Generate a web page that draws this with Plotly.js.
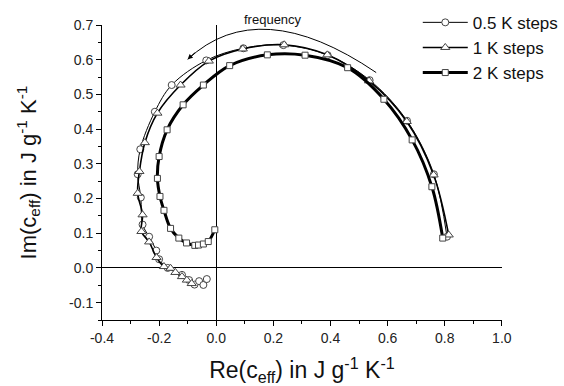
<!DOCTYPE html>
<html>
<head>
<meta charset="utf-8">
<script src="https://cdn.plot.ly/plotly-3.0.1.min.js"></script>
<style>html,body{margin:0;padding:0;background:#fff;}#chart{width:564px;height:386px;}</style>
</head>
<body>
<div id="chart"></div>
<script>
// 0.5 K steps (circles)
var x05 = [0.808, 0.762, 0.668, 0.537, 0.390, 0.235, 0.095, -0.035, -0.156, -0.215, -0.266, -0.275, -0.264, -0.258, -0.235, -0.210, -0.200, -0.170, -0.120, -0.095, -0.076, -0.060, -0.045, -0.033];
var y05 = [0.090, 0.270, 0.424, 0.541, 0.613, 0.642, 0.633, 0.598, 0.527, 0.450, 0.342, 0.270, 0.203, 0.125, 0.090, 0.050, 0.025, 0.000, -0.020, -0.035, -0.048, -0.038, -0.049, -0.032];
// 1 K steps (triangles)
var x1 = [0.814, 0.761, 0.667, 0.535, 0.389, 0.238, 0.093, -0.026, -0.125, -0.206, -0.250, -0.269, -0.275, -0.258, -0.262, -0.235, -0.209, -0.183, -0.160, -0.143, -0.120, -0.103, -0.086];
var y1 = [0.095, 0.268, 0.422, 0.539, 0.614, 0.643, 0.631, 0.596, 0.527, 0.446, 0.361, 0.278, 0.215, 0.153, 0.105, 0.075, 0.030, 0.004, -0.001, -0.013, -0.025, -0.035, -0.045];
// 2 K steps (squares)
var x2 = [0.793, 0.755, 0.686, 0.587, 0.460, 0.311, 0.179, 0.047, -0.045, -0.116, -0.172, -0.200, -0.206, -0.197, -0.183, -0.160, -0.131, -0.104, -0.075, -0.062, -0.045, -0.028, -0.005];
var y2 = [0.086, 0.234, 0.369, 0.486, 0.577, 0.613, 0.614, 0.583, 0.527, 0.470, 0.398, 0.321, 0.258, 0.206, 0.166, 0.114, 0.086, 0.072, 0.065, 0.066, 0.069, 0.076, 0.110];

var seriesNames = ['0.5 K steps', '1 K steps', '2 K steps'];
var xTickVals = [-0.4, -0.2, 0.0, 0.2, 0.4, 0.6, 0.8, 1.0];
var xTickText = ['-0.4', '-0.2', '0.0', '0.2', '0.4', '0.6', '0.8', '1.0'];
var xMinorVals = [-0.3, -0.1, 0.1, 0.3, 0.5, 0.7, 0.9];
var yTickVals = [-0.1, 0.0, 0.1, 0.2, 0.3, 0.4, 0.5, 0.6, 0.7];
var yTickText = ['-0.1', '0.0', '0.1', '0.2', '0.3', '0.4', '0.5', '0.6', '0.7'];
var yMinorVals = [-0.15, -0.05, 0.05, 0.15, 0.25, 0.35, 0.45, 0.55, 0.65];

var font = 'Liberation Sans, Arial, sans-serif';
var xRange = [-0.4, 1.0], yRange = [-0.15, 0.7];
var xDomain = [0, 406 / 462], yDomain = [0, 295 / 320];
function mk(sym, size) {
  return {symbol: sym, size: size, color: '#fff', line: {color: '#444', width: 1}};
}
var traces = [
  {x: x05, y: y05, name: seriesNames[0], mode: 'lines+markers', line: {color: '#000', width: 1, shape: 'spline'}, marker: mk('circle', 7), cliponaxis: false},
  {x: x1, y: y1, name: seriesNames[1], mode: 'lines+markers', line: {color: '#000', width: 1.6, shape: 'spline'}, marker: mk('triangle-up', 8), cliponaxis: false},
  {x: x2, y: y2, name: seriesNames[2], mode: 'lines+markers', line: {color: '#000', width: 3, shape: 'spline'}, marker: mk('square', 6), cliponaxis: false},
  {x: [null], y: [null], xaxis: 'x2', yaxis: 'y', showlegend: false, hoverinfo: 'skip', mode: 'markers'},
  {x: [null], y: [null], xaxis: 'x', yaxis: 'y2', showlegend: false, hoverinfo: 'skip', mode: 'markers'}
];

var layout = {
  width: 564, height: 386,
  margin: {l: 102, r: 0, t: 0, b: 66},
  paper_bgcolor: '#fff', plot_bgcolor: '#fff',
  font: {family: font, color: '#111'},
  showlegend: true,
  legend: {x: 0.694, y: 0.985, xanchor: 'left', yanchor: 'top', font: {size: 17, family: font}, bgcolor: 'rgba(0,0,0,0)', itemwidth: 45, tracegroupgap: 0},
  xaxis: {
    domain: xDomain, range: xRange, showgrid: false, zeroline: true, zerolinecolor: '#000', zerolinewidth: 1,
    showline: true, linecolor: '#000', linewidth: 1, ticks: 'outside', ticklen: 5, tickcolor: '#000',
    tickmode: 'array', tickvals: xTickVals, ticktext: xTickText, tickfont: {size: 14, family: font, color: '#222'},
    title: {text: 'Re(c<sub>eff</sub>) in J g<sup>-1</sup> K<sup>-1</sup>', font: {size: 23, family: font, color: '#111'}, standoff: 17},
    automargin: false
  },
  yaxis: {
    domain: yDomain, range: yRange, showgrid: false, zeroline: true, zerolinecolor: '#000', zerolinewidth: 1,
    showline: true, linecolor: '#000', linewidth: 1, ticks: 'outside', ticklen: 5, tickcolor: '#000',
    tickmode: 'array', tickvals: yTickVals, ticktext: yTickText, tickfont: {size: 14, family: font, color: '#222'},
    title: {text: 'Im(c<sub>eff</sub>) in J g<sup>-1</sup> K<sup>-1</sup>', font: {size: 22, family: font, color: '#111'}, standoff: 26},
    automargin: false
  },
  xaxis2: {
    overlaying: 'x', anchor: 'y', side: 'bottom', range: xRange, showgrid: false, zeroline: false, showline: false,
    ticks: 'outside', ticklen: 3, tickwidth: 1, tickcolor: '#000', tickmode: 'array', tickvals: xMinorVals, showticklabels: false, automargin: false
  },
  yaxis2: {
    overlaying: 'y', anchor: 'x', side: 'left', range: yRange, showgrid: false, zeroline: false, showline: false,
    ticks: 'outside', ticklen: 3, tickwidth: 1, tickcolor: '#000', tickmode: 'array', tickvals: yMinorVals, showticklabels: false, automargin: false
  },
  shapes: [
    {type: 'path', xref: 'x', yref: 'y', path: 'M 0.56 0.563 Q 0.15 0.792 -0.1 0.601', line: {color: '#000', width: 1}}
  ],
  annotations: [
    {x: -0.1, y: 0.601, ax: -0.07, ay: 0.624, axref: 'x', ayref: 'y', xref: 'x', yref: 'y', text: '', showarrow: true, arrowhead: 2, arrowsize: 1, arrowwidth: 1, arrowcolor: '#000'},
    {x: 0.197, y: 0.968, xref: 'x', yref: 'paper', text: 'frequency', showarrow: false, font: {size: 13, family: font, color: '#111'}}
  ]
};
Plotly.newPlot('chart', traces, layout, {displayModeBar: false, staticPlot: true});
</script>
</body>
</html>
